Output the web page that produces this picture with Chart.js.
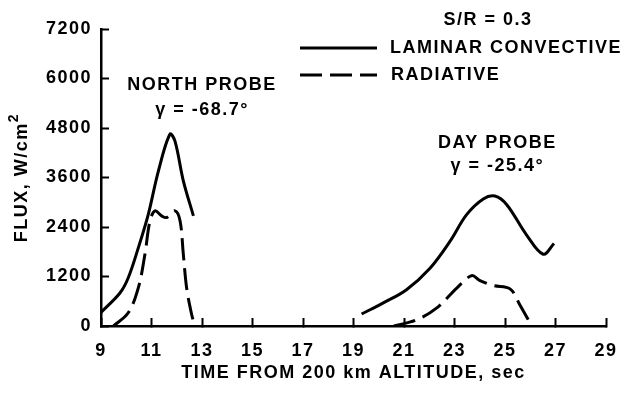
<!DOCTYPE html>
<html>
<head>
<meta charset="utf-8">
<script src="https://cdn.jsdelivr.net/npm/chart.js@4.4.0/dist/chart.umd.min.js"></script>
<style>
  html, body { margin: 0; padding: 0; background: #fff; }
  #flux { display: block; }
</style>
</head>
<body>
<canvas id="flux" width="634" height="394"></canvas>
<script>
// heating flux vs time, S/R = 0.3
const xTickValues = [9, 11, 13, 15, 17, 19, 21, 23, 25, 27, 29];
const yTickValues = [0, 1200, 2400, 3600, 4800, 6000, 7200];

// north probe
const northConvTime = [9.0, 9.75, 10.08, 10.48, 10.87, 11.27, 11.73, 11.93, 12.26, 12.66];
const northConvFlux = [330, 800, 1170, 1900, 2700, 3750, 4650, 4480, 3520, 2670];
const northRadTime = [9.49, 10.08, 10.48, 10.74, 10.94, 11.14, 11.4, 11.6, 11.93, 12.13, 12.26, 12.39, 12.59, 12.72];
const northRadFlux = [0, 320, 930, 1740, 2550, 2790, 2670, 2630, 2790, 2550, 1740, 930, 280, 0];

// day probe
const dayConvTime = [19.32, 20.18, 21.1, 22.03, 22.82, 23.48, 24.14, 24.6, 25.07, 25.85, 26.51, 26.94];
const dayConvFlux = [290, 560, 880, 1400, 2050, 2700, 3080, 3150, 2940, 2210, 1740, 2000];
const dayRadTime = [20.6, 21.5, 22.3, 23.09, 23.68, 24.01, 24.54, 25.2, 25.59, 26.06];
const dayRadFlux = [0, 150, 440, 920, 1220, 1100, 980, 900, 510, 0];

const FONT = 'Liberation Sans, Arial, sans-serif';
const SPACING = '1.5px';
const DASH = [22, 8];

function pts(xs, ys) {
    return xs.map((t, i) => ({x: t, y: ys[i]}));
}

function curve(label, xs, ys, dashed) {
    return {
        label: label,
        data: pts(xs, ys),
        borderColor: '#000',
        borderWidth: 3,
        borderDash: dashed ? DASH : [],
        pointRadius: 0,
        tension: 0.35,
        fill: false
    };
}

function text(ctx, str, x, y, align) {
    ctx.textAlign = align || 'center';
    ctx.textBaseline = 'middle';
    ctx.fillText(str, x, y);
}

const fluxDecor = {
    id: 'fluxDecor',
    beforeDraw(chart) {
        chart.ctx.letterSpacing = SPACING;
    },
    afterDraw(chart) {
        const {ctx, chartArea, scales} = chart;
        const xs = scales.x, ys = scales.y;
        ctx.save();
        ctx.letterSpacing = SPACING;
        ctx.setLineDash([]);
        ctx.strokeStyle = '#000';
        ctx.fillStyle = '#000';

        // y axis title with superscript
        ctx.save();
        ctx.translate(22, (chartArea.top + chartArea.bottom) / 2);
        ctx.rotate(-Math.PI / 2);
        ctx.font = 'bold 18px ' + FONT;
        const main = 'FLUX, W/cm';
        const wMain = ctx.measureText(main).width;
        ctx.font = 'bold 14px ' + FONT;
        const wSup = ctx.measureText('2').width;
        const x0 = -(wMain + wSup) / 2;
        ctx.font = 'bold 18px ' + FONT;
        text(ctx, main, x0, 0, 'left');
        ctx.font = 'bold 14px ' + FONT;
        text(ctx, '2', x0 + wMain, -8, 'left');
        ctx.restore();

        // key
        ctx.font = 'bold 18px ' + FONT;
        text(ctx, 'S/R = 0.3', 488, 20);
        ctx.lineWidth = 3;
        ctx.beginPath();
        ctx.moveTo(300, 48);
        ctx.lineTo(377, 48);
        ctx.stroke();
        ctx.setLineDash(DASH);
        ctx.beginPath();
        ctx.moveTo(300, 75);
        ctx.lineTo(377, 75);
        ctx.stroke();
        ctx.setLineDash([]);
        text(ctx, 'LAMINAR CONVECTIVE', 390, 48, 'left');
        text(ctx, 'RADIATIVE', 391, 75, 'left');

        // probe notes
        text(ctx, 'NORTH PROBE', xs.getPixelForValue(13.0), ys.getPixelForValue(5840));
        text(ctx, 'γ = -68.7°', xs.getPixelForValue(13.0), ys.getPixelForValue(5230));
        text(ctx, 'DAY PROBE', xs.getPixelForValue(24.7), ys.getPixelForValue(4440));
        text(ctx, 'γ = -25.4°', xs.getPixelForValue(24.7), ys.getPixelForValue(3880));
        ctx.restore();
    }
};

const tickFont = {family: FONT, size: 18, weight: 'bold'};

// negative tickLength puts the tick marks inside the plot
const inwardGrid = {
    display: true,
    drawOnChartArea: false,
    drawTicks: true,
    tickLength: -8,
    tickWidth: 2,
    tickColor: '#000'
};

new Chart(document.getElementById('flux'), {
    type: 'line',
    data: {
        datasets: [
            curve('LAMINAR CONVECTIVE', northConvTime, northConvFlux, false),
            curve('RADIATIVE', northRadTime, northRadFlux, true),
            curve('LAMINAR CONVECTIVE', dayConvTime, dayConvFlux, false),
            curve('RADIATIVE', dayRadTime, dayRadFlux, true)
        ]
    },
    options: {
        responsive: false,
        animation: false,
        devicePixelRatio: 1,
        layout: {
            padding: {top: 29, right: 28, bottom: 0, left: 0}
        },
        scales: {
            x: {
                type: 'linear',
                min: 9,
                max: 29,
                grid: inwardGrid,
                border: {display: true, color: '#000', width: 2.5},
                afterBuildTicks: s => { s.ticks = xTickValues.map(v => ({value: v})); },
                afterFit: s => {
                    s.height = 68;
                    s.paddingLeft = 0;
                    s.paddingRight = 0;
                },
                ticks: {
                    padding: 22,
                    color: '#000',
                    font: tickFont,
                    maxRotation: 0,
                    autoSkip: false,
                    callback: v => String(v)
                },
                title: {
                    display: true,
                    text: 'TIME FROM 200 km ALTITUDE, sec',
                    color: '#000',
                    font: tickFont,
                    padding: {top: 0, bottom: 10}
                }
            },
            y: {
                type: 'linear',
                min: 0,
                max: 7200,
                grid: inwardGrid,
                border: {display: true, color: '#000', width: 2.5},
                afterBuildTicks: s => { s.ticks = yTickValues.map(v => ({value: v})); },
                afterFit: s => { s.width = 101; },
                ticks: {
                    padding: 17,
                    color: '#000',
                    font: tickFont,
                    autoSkip: false,
                    callback: v => String(v)
                }
            }
        },
        plugins: {
            legend: {display: false},
            tooltip: {enabled: false}
        }
    },
    plugins: [fluxDecor]
});
</script>
</body>
</html>
